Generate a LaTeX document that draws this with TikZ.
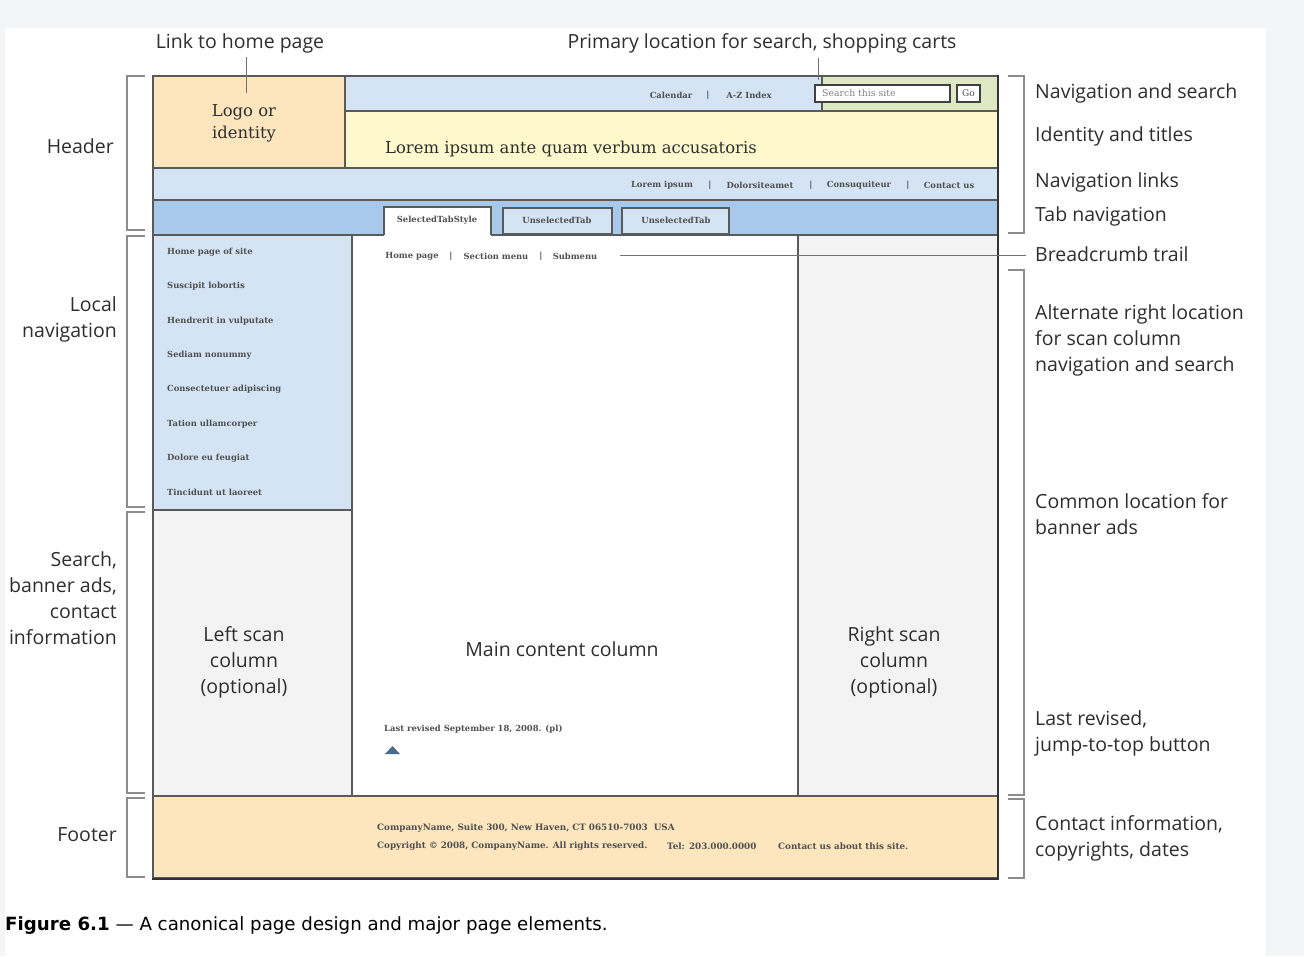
\documentclass[tikz,border=0pt]{standalone}
\usepackage{fontspec}
\setmainfont{DejaVu Serif}
\newfontfamily\lblfont{Open Sans}
\newfontfamily\mockfont{DejaVu Serif}
\newfontfamily\capfont{DejaVu Sans}
\definecolor{pagebg}{HTML}{F4F5F7}
\definecolor{orangefill}{HTML}{FDE5BD}
\definecolor{bluefill}{HTML}{D4E4F4}
\definecolor{midblue}{HTML}{A9C9EA}
\definecolor{yellowfill}{HTML}{FDF9CC}
\definecolor{greenfill}{HTML}{DEE9C3}
\definecolor{greyfill}{HTML}{F3F3F3}
\definecolor{boxline}{HTML}{5A5A5A}
\definecolor{labtext}{HTML}{2E2E2E}
\definecolor{smalltext}{HTML}{505050}
\definecolor{tri}{HTML}{4A6A8C}
\tikzset{
  lab/.style={font=\lblfont\fontsize{19.5}{26}\selectfont, text=labtext, inner sep=0pt},
  box/.style={draw=boxline, line width=1.3pt},
  small/.style={font=\mockfont\bfseries\fontsize{8.4}{10}\selectfont, text=smalltext, inner sep=0pt},
  foot/.style={small, font=\mockfont\bfseries\fontsize{8.8}{10}\selectfont},
  mock/.style={font=\mockfont\fontsize{16.4}{22}\selectfont, text=labtext, inner sep=0pt},
  brk/.style={draw=black!45, line width=1.2pt},
  lead/.style={draw=black!55, line width=1pt},
}
\begin{document}
\begin{tikzpicture}[x=1pt,y=-1pt]
\useasboundingbox (0,0) rectangle (1304,956);
\fill[pagebg] (0,0) rectangle (1304,956);
\fill[white] (5,28) rectangle (1266,956);

% ---------- page mockup ----------
\filldraw[box, fill=orangefill] (153,76) rectangle (345,168);
\filldraw[box, fill=bluefill] (345,76) rectangle (822,111);
\filldraw[box, fill=greenfill] (822,76) rectangle (998,111);
\filldraw[box, fill=yellowfill] (345,111) rectangle (998,168);
\filldraw[box, fill=bluefill] (153,168) rectangle (998,200);
\filldraw[box, fill=midblue] (153,200) rectangle (998,235);
\filldraw[box, fill=bluefill] (153,235) rectangle (352,510);
\filldraw[box, fill=greyfill] (153,510) rectangle (352,796);
\filldraw[box, fill=white] (352,235) rectangle (798,796);
\filldraw[box, fill=greyfill] (798,235) rectangle (998,796);
\filldraw[box, fill=orangefill] (153,796) rectangle (998,878);
\draw[line width=2.2pt, black!80] (998,75) -- (998,879) -- (152,879);

% tabs
\fill[white] (384,207) rectangle (491,237);
\draw[box] (384,235) -- (384,207) -- (491,207) -- (491,235);
\filldraw[box, fill=bluefill] (503,208) rectangle (612,234);
\filldraw[box, fill=bluefill] (622,208) rectangle (729,234);
\node[small] (tab1) at (437,220) {SelectedTabStyle};
\node[small] (tab2) at (557,220) {UnselectedTab};
\node[small] (tab3) at (676,220) {UnselectedTab};

% search box
\filldraw[fill=white, draw=black!75, line width=1.4pt] (815,85) rectangle (950,102);
\filldraw[fill=white, draw=black!75, line width=1.4pt] (957,85) rectangle (980,102);
\node[small, font=\mockfont\fontsize{9.3}{10}\selectfont, text=black!50, anchor=west] (search) at (822,93.5) {Search this site};
\node[small, font=\mockfont\fontsize{9}{10}\selectfont] (go) at (968.5,93.5) {Go};

% top nav
\node[small] (cal) at (671,95) {Calendar};
\node[small] (bar1) at (708,95) {|};
\node[small] (az) at (749,95) {A-Z Index};

% logo & title
\node[mock, align=center] (logo) at (244,123) {Logo or\\identity};
\node[mock, anchor=west] (title) at (385,149) {Lorem ipsum ante quam verbum accusatoris};

% nav links
\node[small] (nl1) at (662,185) {Lorem ipsum};
\node[small] at (710,185) {|};
\node[small] (nl2) at (760,185) {Dolorsiteamet};
\node[small] at (811,185) {|};
\node[small] (nl3) at (859,185) {Consuquiteur};
\node[small] at (908,185) {|};
\node[small] (nl4) at (949,185) {Contact us};

% left nav
\foreach \t [count=\i from 0] in {Home page of site, Suscipit lobortis, Hendrerit in vulputate, Sediam nonummy, Consectetuer adipiscing, Tation ullamcorper, Dolore eu feugiat, Tincidunt ut laoreet}{
  \node[small, anchor=west] (ln\i) at (167,{252+34.4*\i}) {\t};
}

% breadcrumb
\node[small] (bc1) at (412,256) {Home page};
\node[small] at (451,256) {|};
\node[small] (bc2) at (496,256) {Section menu};
\node[small] at (541,256) {|};
\node[small] (bc3) at (575,256) {Submenu};

% columns
\node[lab, align=center] (lscan) at (244,662) {Left scan\\column\\(optional)};
\node[lab] (main) at (562,649) {Main content column};
\node[lab, align=center] (rscan) at (894,662) {Right scan\\column\\(optional)};

% last revised
\node[small, anchor=west] (rev) at (384,729) {Last revised September 18, 2008. (pl)};
\fill[tri] (385,754) -- (392.5,746) -- (400,754) -- cycle;

% footer
\node[foot, anchor=west] (f1) at (377,828) {CompanyName, Suite 300, New Haven, CT 06510-7003\hspace{6pt}USA};
\node[foot, anchor=west] (f2) at (377,846) {Copyright \textcopyright{} 2008, CompanyName. All rights reserved.};
\node[foot, anchor=west] (f3) at (667,846) {Tel: 203.000.0000};
\node[foot, anchor=west] (f4) at (778,846) {Contact us about this site.};

% ---------- annotations ----------
\node[lab] (linkhome) at (240,43) {Link to home page};
\coordinate (lh1) at (246,57);
\coordinate (lh2) at (246,93);
\draw[lead] (lh1) -- (lh2);
\node[lab] (primary) at (762,43) {Primary location for search, shopping carts};
\coordinate (pl1) at (818,58);
\coordinate (pl2) at (818,80);
\draw[lead] (pl1) -- (pl2);

% left brackets
\draw[brk] (145,76) -- (127,76) -- (127,230) -- (145,230);
\draw[brk] (145,236) -- (127,236) -- (127,507) -- (145,507);
\draw[brk] (145,512) -- (127,512) -- (127,793) -- (145,793);
\draw[brk] (145,798) -- (127,798) -- (127,877) -- (145,877);

\node[lab, anchor=east] (hdr) at (114,146) {Header};
\node[lab, anchor=east, align=right] (lnav) at (117,319) {Local\\navigation};
\node[lab, anchor=east, align=right] (srch) at (117,598) {Search,\\banner ads,\\contact\\information};
\node[lab, anchor=east] (ftr) at (117,835) {Footer};

% right brackets
\draw[brk] (1008,76) -- (1024,76) -- (1024,233) -- (1008,233);
\draw[brk] (1008,270) -- (1024,270) -- (1024,795) -- (1008,795);
\draw[brk] (1008,799) -- (1024,799) -- (1024,878) -- (1008,878);
\coordinate (bcA) at (620,255);
\coordinate (bcB) at (1026,255);
\draw[lead] (bcA) -- (bcB);

\node[lab, anchor=west] (r1) at (1035,93) {Navigation and search};
\node[lab, anchor=west] (r2) at (1035,136) {Identity and titles};
\node[lab, anchor=west] (r3) at (1035,182) {Navigation links};
\node[lab, anchor=west] (r4) at (1035,216) {Tab navigation};
\node[lab, anchor=west] (r5) at (1035,254) {Breadcrumb trail};
\node[lab, anchor=west, align=left] (r6) at (1035,340) {Alternate right location\\for scan column\\navigation and search};
\node[lab, anchor=west, align=left] (r7) at (1035,514) {Common location for\\banner ads};
\node[lab, anchor=west, align=left] (r8) at (1035,733) {Last revised,\\jump-to-top button};
\node[lab, anchor=west, align=left] (r9) at (1035,838) {Contact information,\\copyrights, dates};

% caption
\node[anchor=west, inner sep=0pt, font=\capfont\fontsize{18.2}{20}\selectfont, text=black] (caption) at (5,926) {\textbf{Figure 6.1} — A canonical page design and major page elements.};
\end{tikzpicture}
\end{document}
